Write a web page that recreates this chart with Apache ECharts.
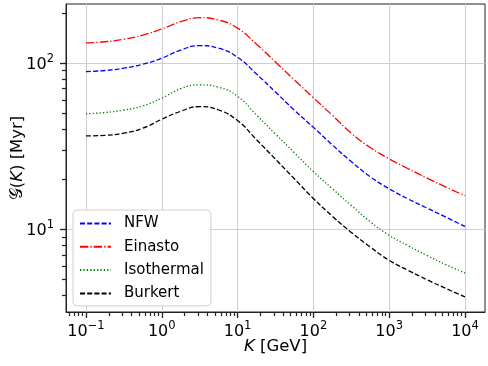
<!DOCTYPE html>
<html>
<head>
<meta charset="utf-8">
<script src="https://cdn.jsdelivr.net/npm/echarts@6/dist/echarts.min.js"></script>
<style>
  html, body { margin: 0; padding: 0; background: #fff; }
  #chart { width: 488px; height: 366px; }
</style>
</head>
<body>
<div id="chart"></div>
<script>
// kinetic energy K [GeV]
var K = [0.1, 0.178, 0.316, 0.562, 1, 1.78, 3.16, 5.62, 10, 17.8, 31.6, 56.2, 100, 178, 316, 562, 1000, 1780, 3160, 5620, 10000];
// G(K) [Myr] per halo profile
var nfw      = [88.7, 90, 92.9, 98.2, 106.7, 119.5, 127, 122.5, 108, 85.7, 66.8, 51.9, 41, 32.1, 25.5, 20.7, 17.5, 15.2, 13.4, 11.8, 10.4];
var einasto  = [132, 134, 138.8, 147, 160, 177, 187, 181, 161.8, 129.4, 101.2, 78.9, 61.7, 48.4, 37.8, 31.0, 26.5, 23.1, 20.3, 17.9, 15.9];
var isotherm = [49.5, 50.3, 52.1, 55.1, 61.4, 70, 73.8, 71.4, 63, 48.5, 37.4, 28.8, 22.2, 17.5, 13.9, 11.1, 9.2, 7.96, 6.95, 6.12, 5.45];
var burkert  = [36.4, 36.7, 37.8, 40.5, 45.8, 51.2, 54.6, 52.1, 45, 34.5, 26.4, 20.1, 15.3, 11.97, 9.57, 7.82, 6.5, 5.66, 4.97, 4.4, 3.92];

var names = ['NFW', 'Einasto', 'Isothermal', 'Burkert'];
var xTicks = [0.1, 1, 10, 100, 1000, 10000];
var yTicks = [10, 100];
var xMinor = [0.06, 0.07, 0.08, 0.09, 0.2, 0.3, 0.4, 0.5, 0.6, 0.7, 0.8, 0.9, 2, 3, 4, 5, 6, 7, 8, 9,
              20, 30, 40, 50, 60, 70, 80, 90, 200, 300, 400, 500, 600, 700, 800, 900,
              2000, 3000, 4000, 5000, 6000, 7000, 8000, 9000];
var yMinor = [4, 5, 6, 7, 8, 9, 20, 30, 40, 50, 60, 70, 80, 90, 200];

var FONT = 'DejaVu Sans';
var INK = '#222';

function pow10Label(v) {
    var e = Math.round(Math.log10(v));
    return '{b|10}{s|' + (e < 0 ? '\u2212' + (-e) : e) + '}';
}
var powRich = {
    b: { fontSize: 16, fontFamily: FONT, color: '#000', lineHeight: 20, verticalAlign: 'bottom' },
    s: { fontSize: 11.5, fontFamily: FONT, color: '#000', lineHeight: 12, verticalAlign: 'top' }
};

function pairs(ys) {
    var out = [];
    for (var i = 0; i < K.length; i++) out.push([K[i], ys[i]]);
    return out;
}

function line(name, ys, color, dash) {
    return {
        name: name,
        type: 'line',
        xAxisIndex: 0,
        yAxisIndex: 0,
        data: pairs(ys),
        smooth: 0.5,
        symbol: 'none',
        lineStyle: { color: color, width: 1.3, type: dash },
        itemStyle: { color: color }
    };
}

var chart = echarts.init(document.getElementById('chart'));
chart.setOption({
    animation: false,
    grid: {
        left: 66, right: 3, top: 4, bottom: 54,
        containLabel: false, outerBoundsMode: 'none',
        show: true, borderColor: INK, borderWidth: 1, backgroundColor: 'transparent'
    },
    legend: {
        data: names,
        orient: 'vertical',
        left: 73, top: 210,
        itemWidth: 31, itemHeight: 14, itemGap: 8.3,
        padding: [6, 7, 5, 6],
        backgroundColor: '#fff',
        borderColor: '#d0d0d0', borderWidth: 1, borderRadius: 4,
        itemStyle: { opacity: 0 },
        textStyle: { fontSize: 15, fontFamily: FONT, color: '#000', padding: [0, 0, 0, 8] }
    },
    xAxis: [{
        type: 'log', logBase: 10, min: 0.0545, max: 18365,
        name: '{i|K} [GeV]', nameLocation: 'middle', nameGap: 26, nameMoveOverlap: false,
        nameTextStyle: {
            fontSize: 16.5, fontFamily: FONT, color: '#000',
            rich: { i: { fontSize: 16.5, fontFamily: FONT, fontStyle: 'italic', color: '#000' } }
        },
        axisLine: { show: true, onZero: false, lineStyle: { color: INK, width: 1 } },
        axisTick: { show: true, inside: false, length: 6, customValues: xTicks, lineStyle: { color: INK, width: 1.3 } },
        axisLabel: { show: true, margin: 8, customValues: xTicks, formatter: pow10Label, rich: powRich },
        splitLine: { show: true, lineStyle: { color: '#d0d0d0', width: 1 } }
    }, {
        type: 'log', logBase: 10, min: 0.0545, max: 18365, position: 'bottom',
        axisLine: { show: false },
        axisTick: { show: true, inside: false, length: 4, customValues: xMinor, lineStyle: { color: INK, width: 1.2 } },
        axisLabel: { show: false },
        splitLine: { show: false }
    }],
    yAxis: [{
        type: 'log', logBase: 10, min: 3.18, max: 226,
        name: '{g|\uD835\uDCA2}({i|K}) [Myr]', nameLocation: 'middle', nameGap: 40, nameMoveOverlap: false,
        nameTextStyle: {
            fontSize: 16.5, fontFamily: FONT, color: '#000',
            rich: {
                g: { fontSize: 16.5, color: '#000' },
                i: { fontSize: 16.5, fontFamily: FONT, fontStyle: 'italic', color: '#000' }
            }
        },
        axisLine: { show: true, onZero: false, lineStyle: { color: INK, width: 1 } },
        axisTick: { show: true, inside: false, length: 6, customValues: yTicks, lineStyle: { color: INK, width: 1.3 } },
        axisLabel: { show: true, margin: 12, customValues: yTicks, formatter: pow10Label, rich: powRich },
        splitLine: { show: true, lineStyle: { color: '#d0d0d0', width: 1 } }
    }, {
        type: 'log', logBase: 10, min: 3.18, max: 226, position: 'left',
        axisLine: { show: false },
        axisTick: { show: true, inside: false, length: 4, customValues: yMinor, lineStyle: { color: INK, width: 1.2 } },
        axisLabel: { show: false },
        splitLine: { show: false }
    }],
    series: [
        line('NFW', nfw, '#0000ff', [5, 2.2]),
        line('Einasto', einasto, '#ff0000', [8.3, 2.1, 1.3, 2.1]),
        line('Isothermal', isotherm, '#008000', [1.3, 2.1]),
        line('Burkert', burkert, '#000000', [5, 2.2])
    ]
});
</script>
</body>
</html>
